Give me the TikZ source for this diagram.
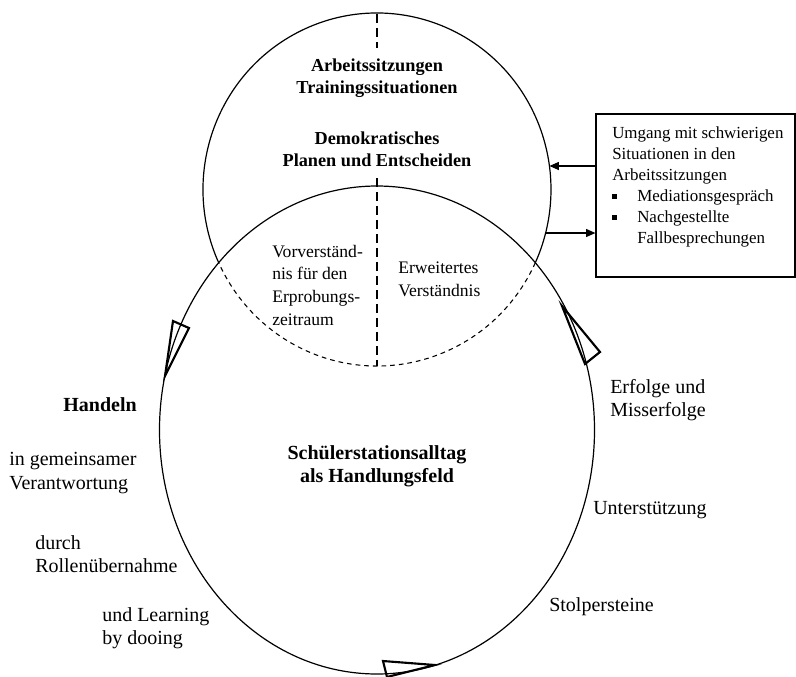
\documentclass[tikz,border=0pt]{standalone}
\usepackage{fontspec}
\setmainfont{Liberation Serif}
\usetikzlibrary{arrows.meta,calc}
\begin{document}
\begin{tikzpicture}[x=0.75pt,y=-0.75pt,
  lbl/.style={inner sep=0pt, align=left, font=\fontsize{15}{17.5}\selectfont},
  lblb/.style={inner sep=0pt, align=center, font=\fontsize{15}{17.5}\selectfont\bfseries},
  innertxt/.style={inner sep=0pt, align=left, font=\fontsize{13.2}{17}\selectfont},
  ttl/.style={inner sep=0pt, align=center, font=\fontsize{13.7}{16.3}\selectfont\bfseries},
  boxtxt/.style={inner sep=0pt, align=left, font=\fontsize{12.7}{15.75}\selectfont},
  ring/.style={line width=0.9pt},
  cyc/.style={line width=1.6pt, line join=miter},
  arr/.style={line width=0.8pt, -{Triangle[length=7pt,width=6pt]}},
  dashv/.style={line width=0.9pt, dash pattern=on 7pt off 3.5pt},
  dasharc/.style={line width=0.8pt, dash pattern=on 3.5pt off 3pt},
  frame/.style={draw, line width=0.9pt, minimum width=149.25pt, minimum height=122.25pt, inner sep=0pt},
]
\useasboundingbox (0,0) rectangle (796,676);

% centres
\coordinate (ct) at (377,189.5);
\coordinate (cb) at (377,430);

% lower ellipse (solid)
\draw[ring] (cb) ellipse [x radius=217.5, y radius=244];

% upper circle: solid outside, dashed inside the lower ellipse
\draw[ring] ($(ct)+(155.5:174 and 176.5)$) arc[start angle=155.5, end angle=384.5, x radius=174, y radius=176.5];
\draw[dasharc] ($(ct)+(24.5:174 and 176.5)$) arc[start angle=24.5, end angle=155.5, x radius=174, y radius=176.5];

% vertical dashed divider
\coordinate (v1) at (377,14);
\coordinate (v2) at (377,48);
\coordinate (v3) at (377,178);
\coordinate (v4) at (377,366);
\draw[dashv] (v1) -- (v2);
\draw[dashv] (v3) -- (v4);

% cycle triangles
\draw[cyc] (173,321) -- (189,328) -- (165,376) -- cycle;
\draw[cyc] (562,306) -- (600,352) -- (585,364) -- cycle;
\draw[cyc] (383,661) -- (435,665) -- (387,677) -- cycle;

% texts in the upper circle
\node[ttl] (t1) at (377,78) {Arbeitssitzungen\\Trainingssituationen};
\node[ttl] (t2) at (377,149) {Demokratisches\\Planen und Entscheiden};
\node[innertxt, anchor=west] (vv) at (272,285) {Vorverständ-\\nis für den\\Erprobungs-\\zeitraum};
\node[innertxt, anchor=west] (ev) at (398,279) {Erweitertes\\Verständnis};

% centre of lower ellipse
\node[lblb] (sa) at (377,466) {Schülerstationsalltag\\als Handlungsfeld};

% left labels
\node[lblb] (hd) at (100,405) {Handeln};
\node[lbl, anchor=west] (l1) at (9,473) {in gemeinsamer\\Verantwortung};
\node[lbl, anchor=west] (l2) at (35,554) {durch\\Rollenübernahme};
\node[lbl, anchor=west] (l3) at (102,628) {und Learning\\by dooing};

% right labels
\node[lbl, anchor=west] (r1) at (610,400) {Erfolge und\\Misserfolge};
\node[lbl, anchor=west] (r2) at (593,510) {Unterstützung};
\node[lbl, anchor=west] (r3) at (549,607) {Stolpersteine};

% box on the right
\node[frame] (box) at (695.5,195.5) {};
\node[boxtxt, anchor=west] (bt) at (612,186.5) {Umgang mit schwierigen\\Situationen in den\\Arbeitssitzungen\\\makebox[18.75pt][l]{\raisebox{1.6pt}{\rule{3.6pt}{3.6pt}}}Mediationsgespräch\\\makebox[18.75pt][l]{\raisebox{1.6pt}{\rule{3.6pt}{3.6pt}}}Nachgestellte\\\hspace*{18.75pt}Fallbesprechungen};

% arrows between box and upper circle
\coordinate (p1) at (549.5,166);
\coordinate (p2) at (545.6,233);
\draw[arr] (box.west |- p1) -- (p1);
\draw[arr] (p2) -- (box.west |- p2);
\end{tikzpicture}
\end{document}
